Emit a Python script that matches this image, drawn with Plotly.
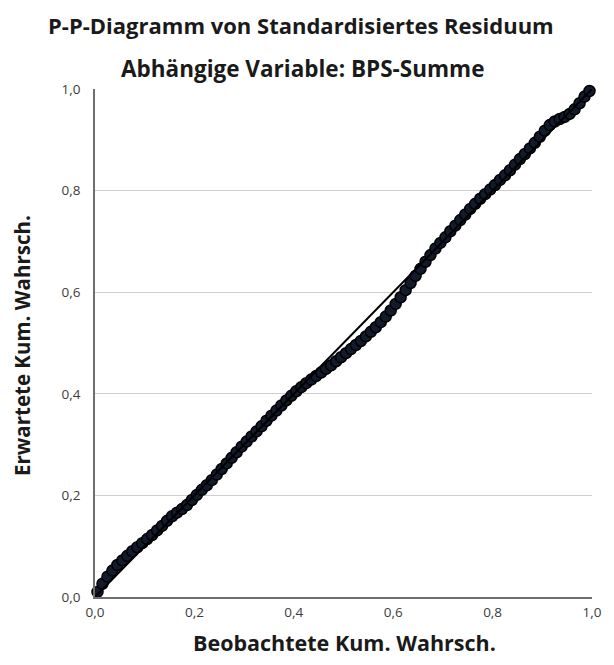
import plotly.graph_objects as go

# Observed cumulative probabilities (sorted standardized residuals)
observed = [
    0.005, 0.015, 0.025, 0.035, 0.045, 0.055, 0.065, 0.075, 0.085, 0.095,
    0.105, 0.115, 0.125, 0.135, 0.145, 0.155, 0.165, 0.175, 0.185, 0.195,
    0.205, 0.215, 0.225, 0.235, 0.245, 0.255, 0.265, 0.275, 0.285, 0.295,
    0.305, 0.315, 0.325, 0.335, 0.345, 0.355, 0.365, 0.375, 0.385, 0.395,
    0.405, 0.415, 0.425, 0.435, 0.445, 0.455, 0.465, 0.475, 0.485, 0.495,
    0.505, 0.515, 0.525, 0.535, 0.545, 0.555, 0.565, 0.575, 0.585, 0.595,
    0.605, 0.615, 0.625, 0.635, 0.645, 0.655, 0.665, 0.675, 0.685, 0.695,
    0.705, 0.715, 0.725, 0.735, 0.745, 0.755, 0.765, 0.775, 0.785, 0.795,
    0.805, 0.815, 0.825, 0.835, 0.845, 0.855, 0.865, 0.875, 0.885, 0.895,
    0.905, 0.915, 0.925, 0.935, 0.945, 0.955, 0.965, 0.975, 0.985, 0.995,
]

# Expected cumulative probabilities under the normal distribution
expected = [
    0.010, 0.026, 0.040, 0.052, 0.063, 0.072, 0.081, 0.090, 0.098, 0.106,
    0.114, 0.122, 0.131, 0.140, 0.150, 0.159, 0.166, 0.173, 0.181, 0.191,
    0.201, 0.211, 0.220, 0.230, 0.241, 0.252, 0.263, 0.274, 0.285, 0.296,
    0.306, 0.316, 0.326, 0.336, 0.347, 0.357, 0.367, 0.377, 0.387, 0.396,
    0.405, 0.413, 0.421, 0.428, 0.435, 0.442, 0.449, 0.456, 0.464, 0.472,
    0.480, 0.488, 0.496, 0.504, 0.513, 0.522, 0.531, 0.541, 0.552, 0.564,
    0.577, 0.590, 0.604, 0.618, 0.632, 0.646, 0.660, 0.673, 0.686, 0.697,
    0.708, 0.720, 0.731, 0.742, 0.753, 0.764, 0.774, 0.784, 0.793, 0.802,
    0.811, 0.821, 0.830, 0.840, 0.851, 0.862, 0.872, 0.883, 0.894, 0.906,
    0.918, 0.929, 0.936, 0.941, 0.945, 0.951, 0.960, 0.972, 0.985, 0.996,
]

# Reference diagonal
diag = [0.0, 1.0]

tick_vals = [0.0, 0.2, 0.4, 0.6, 0.8, 1.0]

FONT = "Open Sans"
TXT = "#1a1a1a"

fig = go.Figure()

fig.add_trace(go.Scatter(
    x=observed, y=expected, mode="markers",
    marker=dict(size=11, color="#121a2c", line=dict(color="#000000", width=1.5)),
    cliponaxis=False, showlegend=False, hoverinfo="x+y",
))

fig.add_trace(go.Scatter(
    x=diag, y=diag, mode="lines",
    line=dict(color="#000000", width=2),
    showlegend=False, hoverinfo="skip",
))

fig.update_layout(
    width=614, height=665,
    margin=dict(l=95, r=14, t=89, b=68),
    paper_bgcolor="white", plot_bgcolor="white",
    separators=", ",
    font=dict(family=FONT, color=TXT),
    xaxis=dict(
        range=[0, 1], tickvals=tick_vals, tickformat=".1f",
        showgrid=False, zeroline=False,
        showline=True, linecolor="#6e6e6e", linewidth=1.5,
        ticks="", ticklabelstandoff=2,
        tickfont=dict(family=FONT, size=13.5, color="#3c3c3c"),
    ),
    yaxis=dict(
        range=[0, 1], tickvals=tick_vals, tickformat=".1f",
        showgrid=True, gridcolor="#cfcfcf", gridwidth=1.2,
        zeroline=False,
        showline=True, linecolor="#6e6e6e", linewidth=1.5,
        ticks="", ticklabelstandoff=10,
        tickfont=dict(family=FONT, size=13.5, color="#3c3c3c"),
    ),
    annotations=[
        dict(text="<b>P-P-Diagramm von Standardisiertes Residuum</b>",
             xref="paper", yref="paper", x=0.5, y=1.126,
             xanchor="center", yanchor="middle", showarrow=False,
             xshift=-43, font=dict(family=FONT, size=22, color=TXT)),
        dict(text="<b>Abhängige Variable: BPS-Summe</b>",
             xref="paper", yref="paper", x=0.5, y=1.041,
             xanchor="center", yanchor="middle", showarrow=False,
             xshift=-41, font=dict(family=FONT, size=22.5, color=TXT)),
        dict(text="<b>Beobachtete Kum. Wahrsch.</b>",
             xref="paper", yref="paper", x=0.5, y=-0.09,
             xanchor="center", yanchor="middle", showarrow=False,
             xshift=1, font=dict(family=FONT, size=21.5, color=TXT)),
        dict(text="<b>Erwartete Kum. Wahrsch.</b>",
             xref="paper", yref="paper", x=0, y=0.5, xshift=-73, yshift=-3,
             xanchor="center", yanchor="middle", showarrow=False,
             textangle=-90,
             font=dict(family=FONT, size=20.5, color=TXT)),
    ],
)

fig.write_html("out.html")
